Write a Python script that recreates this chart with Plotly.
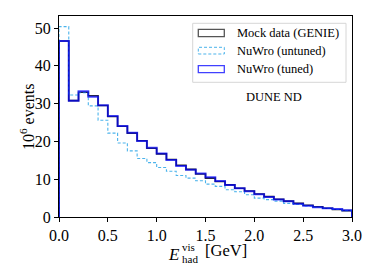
import numpy as np
import plotly.graph_objects as go

bin_edges = [round(0.1 * i, 1) for i in range(31)]
mock_genie = [46.6, 30.8, 33.0, 32.1, 29.5, 26.6, 24.0, 22.2, 20.2, 18.2, 16.7, 15.2, 13.7, 12.6, 11.4,
              10.3, 9.4, 8.5, 7.6, 6.9, 6.1, 5.4, 4.7, 4.2, 3.6, 3.1, 2.7, 2.3, 2.0, 1.7]
nuwro_tuned = [46.6, 30.8, 33.3, 31.8, 29.6, 26.7, 24.1, 22.3, 20.1, 18.3, 16.8, 15.1, 13.5, 12.5, 11.5,
               10.5, 9.5, 8.5, 7.6, 6.8, 6.0, 5.3, 4.6, 4.2, 3.5, 3.0, 2.6, 2.3, 2.1, 1.8]
nuwro_untuned = [50.4, 32.3, 32.9, 29.4, 25.6, 22.2, 19.6, 17.5, 15.5, 14.4, 13.1, 12.1, 11.0, 10.3, 9.6,
                 8.7, 8.1, 7.2, 6.7, 5.9, 5.0, 4.6, 4.2, 3.6, 3.3, 2.9, 2.6, 2.3, 2.0, 1.7]
x_ticks = [0.0, 0.5, 1.0, 1.5, 2.0, 2.5, 3.0]
y_ticks = [0, 10, 20, 30, 40, 50]
legend_labels = ["Mock data (GENIE)", "NuWro (untuned)", "NuWro (tuned)"]

SERIF = "Liberation Serif"


def step_xy(vals):
    xs = [bin_edges[0]] + bin_edges + [bin_edges[-1]]
    ys = [0] + list(vals) + [vals[-1], 0]
    return xs, ys


fig = go.Figure()
styles = [
    (mock_genie, dict(color="rgba(20,20,20,0.9)", width=1.6, dash="solid")),
    (nuwro_untuned, dict(color="rgba(30,160,230,0.8)", width=1.1, dash="3px,2px")),
    (nuwro_tuned, dict(color="rgba(0,0,255,0.7)", width=2.0, dash="solid")),
]
for (vals, ln), name in zip(styles, legend_labels):
    xs, ys = step_xy(vals)
    fig.add_trace(go.Scatter(x=xs, y=ys, mode="lines", line=dict(shape="hv", **ln),
                             name=name, showlegend=False, hoverinfo="skip"))


def px2paper(px, py):
    return (px - 59) / 293, (217 - py) / 201


shapes = []
x0, y0 = px2paper(192.7, 23.3)
x1, y1 = px2paper(346, 82.3)
shapes.append(dict(type="rect", xref="paper", yref="paper", x0=x0, y0=y1, x1=x1, y1=y0,
                   line=dict(color="#d6d6d6", width=1), fillcolor="rgba(255,255,255,0.8)", layer="above"))
sw_rows = [(29.3, 36.7), (47.3, 54.0), (65.7, 72.7)]
sw_lines = [dict(color="#555555", width=1.3),
            dict(color="rgba(30,160,230,0.8)", width=1, dash="3px,2px"),
            dict(color="rgba(0,0,255,0.75)", width=1.3)]
annotations = []
for (ta, tb), ln, lab in zip(sw_rows, sw_lines, legend_labels):
    sx0, sy0 = px2paper(198.3, ta)
    sx1, sy1 = px2paper(224.3, tb)
    shapes.append(dict(type="rect", xref="paper", yref="paper", x0=sx0, y0=sy1, x1=sx1, y1=sy0,
                       line=ln, fillcolor="rgba(0,0,0,0)", layer="above"))
    tx, ty = px2paper(235, (ta + tb) / 2)
    annotations.append(dict(text=lab, xref="paper", yref="paper", x=tx, y=ty, xanchor="left",
                            yanchor="middle", showarrow=False, font=dict(family=SERIF, size=12.5, color="black")))

tx, ty = px2paper(274, 96.7)
annotations.append(dict(text="DUNE ND", xref="paper", yref="paper", x=tx, y=ty, xanchor="center",
                        yanchor="middle", showarrow=False, font=dict(family=SERIF, size=12.5, color="black")))

tx, ty = px2paper(27, 117)
annotations.append(dict(text="10<sup>6</sup> events", xref="paper", yref="paper", x=tx, y=ty,
                        xanchor="center", yanchor="middle", textangle=-90, showarrow=False,
                        font=dict(family=SERIF, size=16, color="black")))
for txt, px, py, sz in [("<i>E</i>", 174, 254, 17), ("vis", 188.5, 246.5, 11), ("had", 189.5, 258.5, 11),
                        ("[GeV]", 225.5, 251, 16.5)]:
    tx, ty = px2paper(px, py)
    annotations.append(dict(text=txt, xref="paper", yref="paper", x=tx, y=ty, xanchor="center",
                            yanchor="middle", showarrow=False, font=dict(family=SERIF, size=sz, color="black")))

fig.update_layout(
    width=374, height=280,
    margin=dict(l=59, r=22, t=16, b=63),
    paper_bgcolor="white", plot_bgcolor="white",
    showlegend=False,
    shapes=shapes, annotations=annotations,
    font=dict(family=SERIF, size=15, color="black"),
)
fig.update_xaxes(range=[0, 3.0], tickvals=x_ticks, ticktext=[f"{v:.1f}" for v in x_ticks],
                 ticks="outside", ticklen=4, tickcolor="black", showline=True, linecolor="black",
                 linewidth=1, mirror=True, showgrid=False, zeroline=False,
                 tickfont=dict(family=SERIF, size=16, color="black"))
fig.update_yaxes(range=[0, 53.2], tickvals=y_ticks, ticks="outside", ticklen=4, tickcolor="black",
                 showline=True, linecolor="black", linewidth=1, mirror=True, showgrid=False,
                 zeroline=False, tickfont=dict(family=SERIF, size=16, color="black"))

fig.write_html("out.html", config={"displayModeBar": False, "staticPlot": True},
               post_script="document.body.style.margin='0';document.body.style.overflow='hidden';")
